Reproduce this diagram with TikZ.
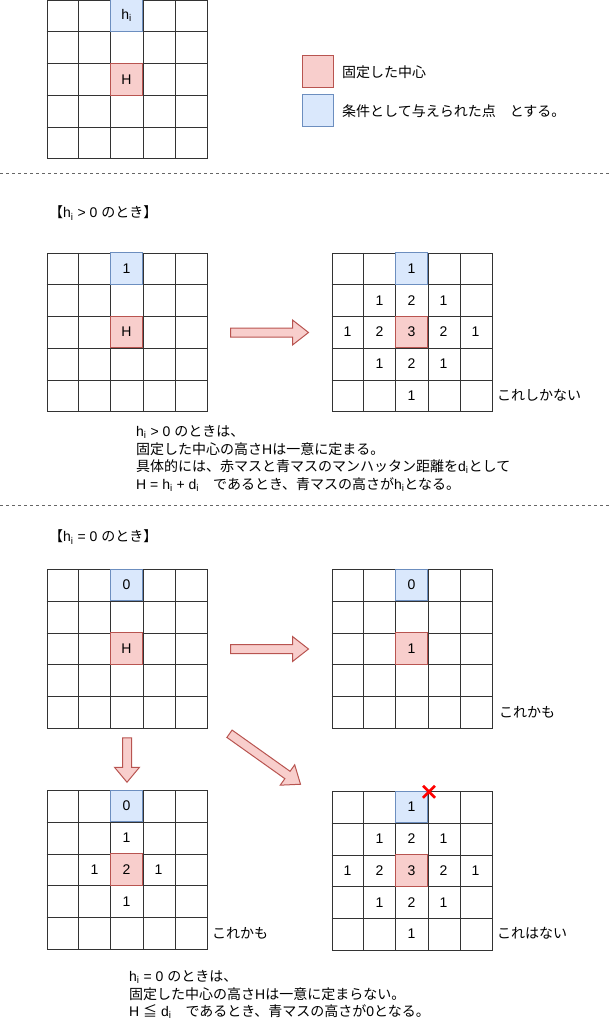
\documentclass[tikz,border=0pt]{standalone}
\usepackage{fontspec}
\setmainfont{Liberation Sans}
\newfontfamily\jp{Noto Sans CJK JP}
\usetikzlibrary{calc,positioning}
\definecolor{cellred}{HTML}{F8CECC}
\definecolor{edgered}{HTML}{B85450}
\definecolor{cellblue}{HTML}{DAE8FC}
\definecolor{edgeblue}{HTML}{6C8EBF}
\definecolor{crossred}{HTML}{FF0000}
\newcommand{\hsub}{h\textsubscript{i}}
\newcommand{\dsub}{d\textsubscript{i}}

\tikzset{
  lbl/.style={inner sep=0pt, font=\fontsize{14pt}{17.7pt}\selectfont},
  boardframe/.style={draw=black!80, line width=1pt, inner sep=0pt, minimum width=160pt, minimum height=158.5pt},
  boardline/.style={draw=black!80, line width=1pt},
  plaincell/.style={lbl, minimum width=32pt, minimum height=31.7pt},
  redcell/.style={plaincell, fill=cellred, draw=edgered, line width=1pt},
  bluecell/.style={plaincell, fill=cellblue, draw=edgeblue, line width=1pt},
  fat/.style={fill=cellred, draw=edgered, line width=1pt, line join=miter},
  sepline/.style={draw=black!60, line width=1pt, dash pattern=on 3pt off 3pt},
  xmark/.style={draw=crossred, line width=2.8pt}
}

% 5x5 board: frame node and the inner lines
\newcommand{\drawboard}[2]{%
  \node[boardframe] (#1) at (#2) {};
  \foreach \k [evaluate=\k as \f using \k/5] in {1,...,4} {
    \draw[boardline] ($(#1.north west)!\f!(#1.north east)$) -- ($(#1.south west)!\f!(#1.south east)$);
    \draw[boardline] ($(#1.north west)!\f!(#1.south west)$) -- ($(#1.north east)!\f!(#1.south east)$);
  }
}
% one cell of a board: [style]{board}{row}{col}{text}
\newcommand{\boardcell}[5][plaincell]{%
  \node[#1] (#2-#3#4) at ($(#2.north west)+({(#4-0.5)*32},{(#3-0.5)*31.7})$) {#5};
}
% block arrow: {from}{to}{head length}
\newcommand{\fatarrow}[3]{%
  \coordinate (hb) at ($(#2)!#3!(#1)$);
  \draw[fat] ($(#1)!4.5pt!90:(#2)$) -- ($(hb)!4.5pt!90:(#2)$) -- ($(hb)!12.5pt!90:(#2)$) -- (#2)
    -- ($(hb)!12.5pt!-90:(#2)$) -- ($(hb)!4.5pt!-90:(#2)$) -- ($(#1)!4.5pt!-90:(#2)$) -- cycle;
}

\begin{document}
\begin{tikzpicture}[x=1pt, y=-1pt]
\useasboundingbox (0,0) rectangle (611,1024);

% Legend board
\drawboard{gA}{127,79.75}
\boardcell[bluecell]{gA}{1}{3}{\hsub}
\boardcell[redcell]{gA}{3}{3}{H}

\node[redcell, minimum width=31pt, minimum height=32pt] (keyR) at (317.5,72) {};
\node[bluecell, minimum width=31pt, minimum height=32pt] (keyB) at (317.5,111) {};
\node[lbl, anchor=west] (keyRtxt) at (342,72) {\jp 固定した中心};
\node[lbl, anchor=west] (keyBtxt) at (342,111) {\jp 条件として与えられた点　とする。};

\draw[sepline] (0,174) -- (611,174);

% Case h_i > 0
\node[lbl, anchor=west] (ttlA) at (49,213) {{\jp 【}\hsub{} > 0 {\jp のとき】}};

\drawboard{gB}{127,332.5}
\boardcell[bluecell]{gB}{1}{3}{1}
\boardcell[redcell]{gB}{3}{3}{H}

\drawboard{gC}{412,332.5}
\boardcell[bluecell]{gC}{1}{3}{1}
\boardcell[redcell]{gC}{3}{3}{3}
\foreach \r/\c/\v in {2/2/1,2/3/2,2/4/1,3/1/1,3/2/2,3/4/2,3/5/1,4/2/1,4/3/2,4/4/1,5/3/1}
  {\boardcell{gC}{\r}{\c}{\v}}
\node[lbl, anchor=west] (onlyC) at (497,395) {\jp これしかない};

\coordinate (rAs) at ($(gB.east)+(23,0)$);
\coordinate (rAe) at ($(gC.west)+(-23,0)$);
\fatarrow{rAs}{rAe}{16pt}

\node[lbl, anchor=north west, align=left] (noteA) at (136,425) {%
  \hsub{} > 0 {\jp のときは、}\\
  {\jp 固定した中心の高さ}H{\jp は一意に定まる。}\\
  {\jp 具体的には、赤マスと青マスのマンハッタン距離を}\dsub{\jp として}\\
  H = \hsub{} + \dsub{\jp 　であるとき、青マスの高さが}\hsub{\jp となる。}};

\draw[sepline] (0,505) -- (611,505);

% Case h_i = 0
\node[lbl, anchor=west] (ttlB) at (49,537) {{\jp 【}\hsub{} = 0 {\jp のとき】}};

\drawboard{gD}{127,649}
\boardcell[bluecell]{gD}{1}{3}{0}
\boardcell[redcell]{gD}{3}{3}{H}

\drawboard{gE}{412,649}
\boardcell[bluecell]{gE}{1}{3}{0}
\boardcell[redcell]{gE}{3}{3}{1}
\node[lbl, anchor=west] (maybeE) at (499,712) {\jp これかも};

\drawboard{gF}{127,870}
\boardcell[bluecell]{gF}{1}{3}{0}
\boardcell[redcell]{gF}{3}{3}{2}
\foreach \r/\c/\v in {2/3/1,3/2/1,3/4/1,4/3/1}
  {\boardcell{gF}{\r}{\c}{\v}}
\node[lbl, anchor=west] (maybeF) at (212,933) {\jp これかも};

\drawboard{gG}{412,871}
\boardcell[bluecell]{gG}{1}{3}{1}
\boardcell[redcell]{gG}{3}{3}{3}
\foreach \r/\c/\v in {2/2/1,2/3/2,2/4/1,3/1/1,3/2/2,3/4/2,3/5/1,4/2/1,4/3/2,4/4/1,5/3/1}
  {\boardcell{gG}{\r}{\c}{\v}}
\node[lbl, anchor=west] (notG) at (497,933) {\jp これはない};
\draw[xmark] ($(gG-13.north east)+(-5,-5)$) -- ($(gG-13.north east)+(7,7)$);
\draw[xmark] ($(gG-13.north east)+(-5,7)$) -- ($(gG-13.north east)+(7,-5)$);

\coordinate (rBs) at ($(gD.east)+(23,0)$);
\coordinate (rBe) at ($(gE.west)+(-23,0)$);
\fatarrow{rBs}{rBe}{16pt}
\coordinate (dns) at ($(gD.south)+(0,9)$);
\coordinate (dne) at ($(gF.north)+(0,-8)$);
\fatarrow{dns}{dne}{15pt}
\coordinate (dgs) at ($(gD.south east)+(22,5)$);
\coordinate (dge) at ($(gG.north west)+(-31,-7)$);
\fatarrow{dgs}{dge}{16pt}

\node[lbl, anchor=north west, align=left] (noteB) at (129,970) {%
  \hsub{} = 0 {\jp のときは、}\\
  {\jp 固定した中心の高さ}H{\jp は一意に定まらない。}\\
  H {\jp ≦} \dsub{\jp 　であるとき、青マスの高さが}0{\jp となる。}};

\end{tikzpicture}
\end{document}
